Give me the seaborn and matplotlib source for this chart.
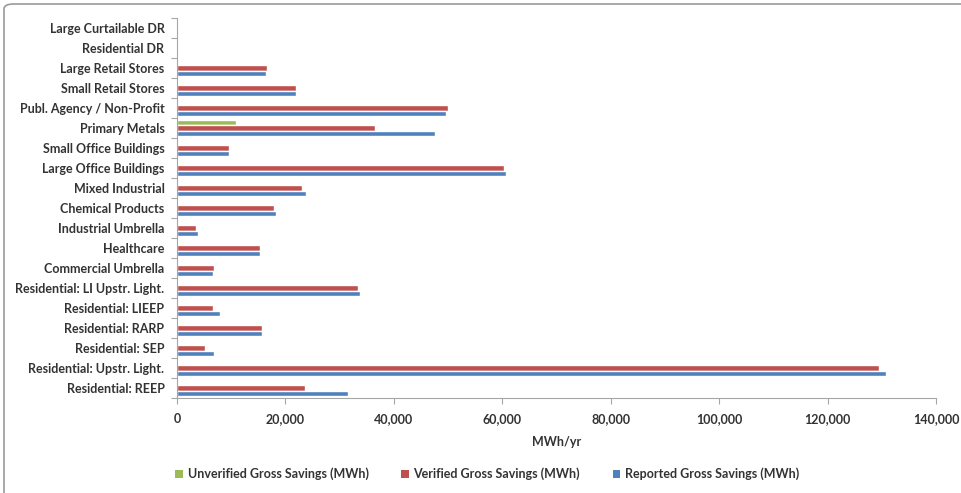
import numpy as np
import pandas as pd
import matplotlib
matplotlib.use("Agg")
import matplotlib.pyplot as plt
from matplotlib.patches import FancyBboxPatch, Patch
import seaborn as sns

categories = [
    "Large Curtailable DR",
    "Residential DR",
    "Large Retail Stores",
    "Small Retail Stores",
    "Publ. Agency / Non-Profit",
    "Primary Metals",
    "Small Office Buildings",
    "Large Office Buildings",
    "Mixed Industrial",
    "Chemical Products",
    "Industrial Umbrella",
    "Healthcare",
    "Commercial Umbrella",
    "Residential: LI Upstr. Light.",
    "Residential: LIEEP",
    "Residential: RARP",
    "Residential: SEP",
    "Residential: Upstr. Light.",
    "Residential: REEP",
]

unverified = [0, 0, 0, 0, 0, 10800, 0, 0, 0, 0, 0, 0, 0, 0, 0, 0, 0, 0, 0]
verified = [0, 0, 16600, 22000, 50000, 36600, 9600, 60400, 23100, 17900,
            3500, 15300, 6800, 33400, 6600, 15700, 5100, 129500, 23600]
reported = [0, 0, 16500, 21900, 49600, 47500, 9600, 60600, 23800, 18200,
            3800, 15300, 6700, 33800, 8000, 15700, 6800, 130700, 31600]

series_names = [
    "Unverified Gross Savings (MWh)",
    "Verified Gross Savings (MWh)",
    "Reported Gross Savings (MWh)",
]
series_colors = ["#9BBB59", "#C0504D", "#4F81BD"]

x_ticks = [0, 20000, 40000, 60000, 80000, 100000, 120000, 140000]
x_label = "MWh/yr"

df = pd.DataFrame({
    "category": categories * 3,
    "series": np.repeat(series_names, len(categories)),
    "value": unverified + verified + reported,
})

sns.set_theme(style="white")
plt.rcParams["font.family"] = ["Lato", "DejaVu Sans"]
text_color = "#333333"
axis_color = "#a6a6a6"
fs = 9

fig = plt.figure(figsize=(9.61, 4.93), dpi=100)
ax = fig.add_axes([177 / 961, 1 - 398 / 493, (936 - 177) / 961, (398 - 18) / 493])

sns.barplot(
    data=df, y="category", x="value", hue="series",
    order=categories, hue_order=series_names, palette=series_colors,
    orient="h", width=0.78, saturation=1, ax=ax, legend=False,
)

ax.set_xlim(0, 140000)
ax.set_ylim(len(categories) - 0.5, -0.5)
ax.set_xticks(x_ticks)
ax.set_xticklabels([f"{v:,}" for v in x_ticks])
ax.set_xlabel(x_label, fontsize=fs, fontweight="bold", color=text_color, labelpad=8)
ax.set_ylabel("")

# category labels at group centres, tick marks at group boundaries
ax.set_yticks(np.arange(-0.5, len(categories), 1), minor=True)
ax.tick_params(axis="y", which="major", length=0, pad=9, labelsize=fs,
               labelcolor=text_color)
ax.tick_params(axis="y", which="minor", length=4, color=axis_color, width=0.8,
               direction="out", left=True)
ax.tick_params(axis="x", which="major", length=4, color=axis_color, width=0.8,
               direction="out", bottom=True, labelsize=fs, labelcolor=text_color,
               pad=7)
for lbl in ax.get_yticklabels() + ax.get_xticklabels():
    lbl.set_fontweight("bold")

for side in ["top", "right"]:
    ax.spines[side].set_visible(False)
for side in ["left", "bottom"]:
    ax.spines[side].set_color(axis_color)
    ax.spines[side].set_linewidth(0.8)

handles = [Patch(facecolor=c, edgecolor="none") for c in series_colors]
leg = fig.legend(
    handles, series_names, loc="center left",
    bbox_to_anchor=(170 / 961, 1 - 474 / 493), ncol=3, frameon=False,
    borderaxespad=0, handlelength=0.6, handleheight=0.6, handletextpad=0.4,
    columnspacing=2.6, fontsize=fs,
)
for t in leg.get_texts():
    t.set_fontweight("bold")
    t.set_color(text_color)

# rounded chart-area border
frame = FancyBboxPatch(
    (4 / 961, -0.05), 1.2, 1 - 4 / 493 + 0.05,
    boxstyle="round,pad=0,rounding_size=0.01",
    transform=fig.transFigure, facecolor="none",
    edgecolor="#9a9a9a", linewidth=1.2, zorder=-1,
)
fig.patches.append(frame)

fig.savefig("out.png", dpi=100)
